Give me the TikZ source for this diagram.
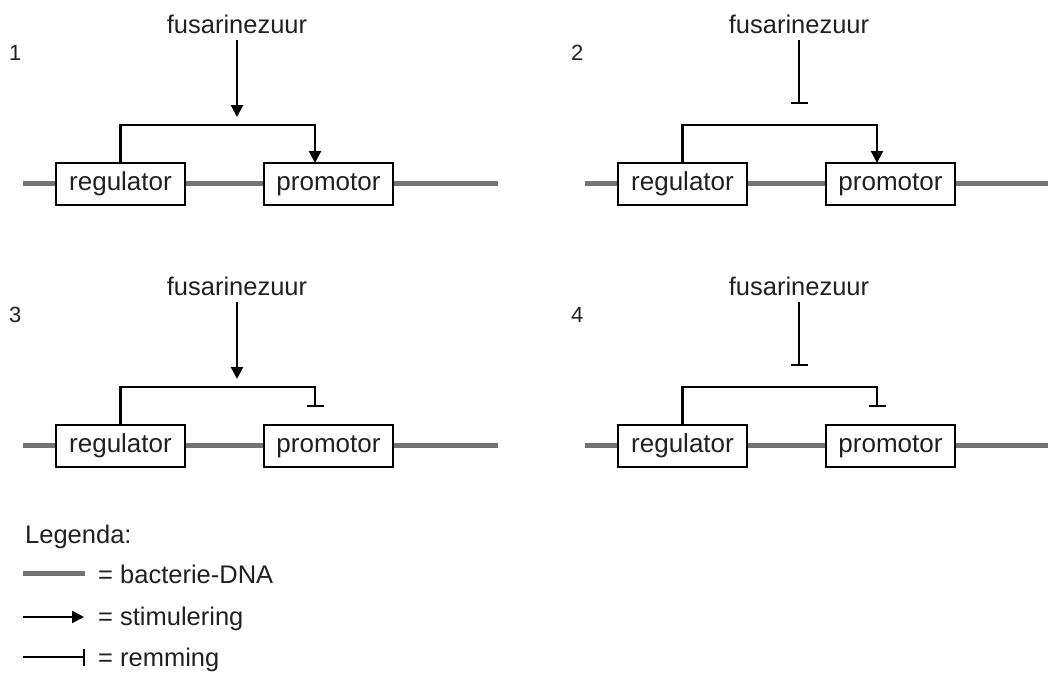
\documentclass[tikz,border=0pt]{standalone}
\usepackage{fontspec}
\setmainfont{Liberation Sans}
\usetikzlibrary{arrows.meta}
\definecolor{txt}{HTML}{231F20}
\definecolor{dnagray}{HTML}{737373}
\tikzset{
  dnaline/.style={draw=dnagray, line width=5pt},
  conn/.style={draw=black, line width=2.2pt},
  stim/.style={conn, -{Triangle[length=12pt,width=12pt]}},
  inh/.style={conn, -{Bar[width=17pt,line width=2.2pt]}},
  genebox/.style={draw=black, line width=1.3pt, fill=white, minimum width=129pt, minimum height=42pt, inner sep=0pt, text height=18.5pt, text depth=5.5pt, text=txt, font=\fontsize{26}{31}\selectfont},
  fuslabel/.style={inner sep=0pt, outer sep=0pt, anchor=base, text=txt, font=\fontsize{25.5}{30}\selectfont},
  numlabel/.style={inner sep=0pt, anchor=base west, text=txt, font=\fontsize{22}{26}\selectfont},
  legtext/.style={inner sep=0pt, anchor=base west, text=txt, font=\fontsize{25.5}{30}\selectfont},
}
% #1 number, #2 dx, #3 dy, #4 top style, #5 top end y, #6 right style, #7 right end y, #8 dna end x
\newcommand\genepanel[8]{%
\begin{scope}[shift={(#2,#3)}]
  \coordinate (da#1) at (23,183);
  \coordinate (db#1) at (#8,183);
  \draw[dnaline] (da#1) -- (db#1);
  \node[numlabel] (n#1) at (9,60) {#1};
  \node[fuslabel] (f#1) at (237,33) {fusarinezuur};
  \node[genebox] (r#1) at (120.5,184) {regulator};
  \node[genebox] (p#1) at (328.5,184) {promotor};
  \coordinate (te#1) at (237,#5);
  \coordinate (b#1) at (315,125);
  \coordinate (q#1) at (315,#7);
  \draw[#4] ([yshift=-7pt]f#1.south) -- (te#1);
  \draw[#6] (r#1.north) |- (b#1) -- (q#1);
\end{scope}}

\begin{document}
\begin{tikzpicture}[x=1pt,y=-1pt]
\useasboundingbox (0,0) rectangle (1048,672);
\genepanel{1}{0}{0}{stim}{117}{stim}{163}{498}
\genepanel{2}{562}{0}{inh}{104}{stim}{163}{490}
\genepanel{3}{0}{262}{stim}{117}{inh}{145}{498}
\genepanel{4}{562}{262}{inh}{104}{inh}{145}{490}
% legend
\node[legtext] (leg) at (25,543) {Legenda:};
\coordinate (la1) at (23,573); \coordinate (lb1) at (85,573);
\draw[dnaline] (la1) -- (lb1);
\node[legtext] (lt1) at (98,583) {= bacterie-DNA};
\coordinate (la2) at (23,617); \coordinate (lb2) at (84,617);
\draw[stim] (la2) -- (lb2);
\node[legtext] (lt2) at (98,625) {= stimulering};
\coordinate (la3) at (23,657); \coordinate (lb3) at (85,657);
\draw[inh] (la3) -- (lb3);
\node[legtext] (lt3) at (98,666) {= remming};
\end{tikzpicture}
\end{document}
